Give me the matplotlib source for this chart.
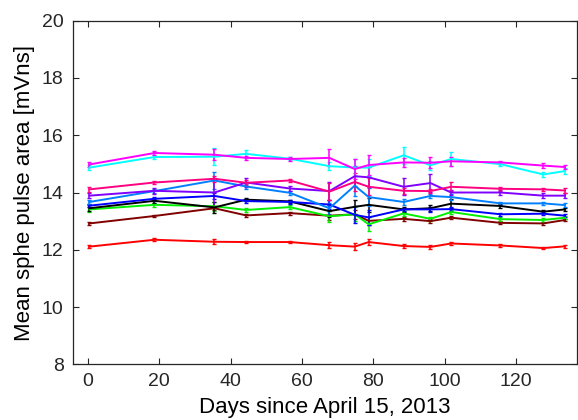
import matplotlib
matplotlib.use('Agg')
import matplotlib.pyplot as plt

plt.rcParams['font.family'] = ['Liberation Sans', 'DejaVu Sans']

days = [0.5, 18.7, 35.5, 44.4, 56.6, 67.7, 74.8, 78.7, 88.5, 96.0, 101.8, 115.6, 127.6, 133.7]

magenta = [14.98, 15.38, 15.32, 15.21, 15.17, 15.21, 14.82, 14.96, 15.05, 15.04, 15.09, 15.05, 14.94, 14.89]
cyan = [14.87, 15.24, 15.25, 15.35, 15.18, 14.92, 14.87, 14.87, 15.30, 14.95, 15.17, 14.99, 14.63, 14.75]
pink = [14.11, 14.35, 14.48, 14.34, 14.42, 14.03, 14.37, 14.20, 14.06, 14.05, 14.20, 14.13, 14.11, 14.07]
purple = [13.89, 14.06, 14.00, 14.35, 14.14, 14.05, 14.57, 14.53, 14.20, 14.33, 14.00, 14.00, 13.89, 13.89]
dodger = [13.67, 14.05, 14.42, 14.21, 13.99, 13.45, 14.24, 13.84, 13.67, 13.88, 13.84, 13.62, 13.62, 13.56]
blue = [13.54, 13.78, 13.88, 13.70, 13.67, 13.58, 13.22, 13.13, 13.41, 13.41, 13.42, 13.24, 13.26, 13.19]
black = [13.45, 13.71, 13.48, 13.75, 13.69, 13.35, 13.50, 13.57, 13.41, 13.45, 13.61, 13.53, 13.33, 13.41]
green = [13.41, 13.57, 13.52, 13.39, 13.49, 13.17, 13.24, 12.89, 13.27, 13.08, 13.32, 13.07, 13.04, 13.12]
maroon = [12.92, 13.18, 13.45, 13.20, 13.28, 13.19, 13.24, 13.01, 13.08, 13.00, 13.12, 12.94, 12.92, 13.04]
red = [12.11, 12.35, 12.28, 12.27, 12.27, 12.16, 12.11, 12.27, 12.13, 12.10, 12.22, 12.15, 12.06, 12.12]

err_magenta = [0.1, 0.08, 0.2, 0.08, 0.06, 0.3, 0.35, 0.35, 0.15, 0.2, 0.15, 0.06, 0.08, 0.08]
err_cyan = [0.1, 0.08, 0.3, 0.15, 0.06, 0.15, 0.3, 0.3, 0.3, 0.15, 0.25, 0.08, 0.1, 0.1]
err_pink = [0.08, 0.06, 0.1, 0.08, 0.06, 0.3, 0.3, 0.3, 0.1, 0.08, 0.15, 0.06, 0.06, 0.08]
err_purple = [0.08, 0.1, 0.5, 0.15, 0.08, 0.3, 0.35, 0.35, 0.3, 0.3, 0.08, 0.08, 0.08, 0.08]
err_dodger = [0.08, 0.06, 0.3, 0.08, 0.06, 0.2, 0.35, 0.3, 0.1, 0.08, 0.1, 0.06, 0.06, 0.06]
err_blue = [0.06, 0.06, 0.1, 0.06, 0.06, 0.15, 0.3, 0.25, 0.06, 0.1, 0.08, 0.06, 0.06, 0.06]
err_black = [0.1, 0.06, 0.2, 0.06, 0.06, 0.2, 0.25, 0.25, 0.1, 0.1, 0.15, 0.06, 0.06, 0.06]
err_green = [0.1, 0.06, 0.15, 0.08, 0.06, 0.2, 0.25, 0.25, 0.1, 0.06, 0.08, 0.06, 0.06, 0.06]
err_maroon = [0.06, 0.05, 0.06, 0.05, 0.05, 0.15, 0.15, 0.15, 0.06, 0.06, 0.06, 0.05, 0.05, 0.05]
err_red = [0.05, 0.05, 0.08, 0.05, 0.05, 0.1, 0.12, 0.12, 0.06, 0.06, 0.06, 0.05, 0.05, 0.05]

series = [
    (red, err_red, '#ff0000'),
    (maroon, err_maroon, '#800000'),
    (green, err_green, '#00ee00'),
    (black, err_black, '#000000'),
    (blue, err_blue, '#0000ff'),
    (dodger, err_dodger, '#0080ff'),
    (purple, err_purple, '#8000ff'),
    (pink, err_pink, '#ff0080'),
    (cyan, err_cyan, '#00ffff'),
    (magenta, err_magenta, '#ff00ff'),
]

fig = plt.figure(figsize=(5.78, 4.2), dpi=100)
ax = fig.add_axes([0.127, 0.1326, 0.871, 0.8181])

for vals, errs, col in series:
    ax.errorbar(days, vals, yerr=errs, color=col, lw=1.4, elinewidth=1.1,
                capsize=1.5, capthick=1.0)

ax.set_xlim(-4, 137)
ax.set_ylim(8, 20)
ax.set_xticks(range(0, 121, 20))
ax.set_yticks(range(8, 21, 2))
ax.tick_params(direction='in', top=True, right=True, length=4, width=0.8,
               labelsize=14, colors='#262626')
ax.tick_params(axis='x', pad=6)
ax.tick_params(axis='y', pad=7)
for s in ax.spines.values():
    s.set_linewidth(0.9)
    s.set_color('#262626')
ax.set_xlabel('Days since April 15, 2013', fontsize=16, labelpad=5)
ax.set_ylabel('Mean sphe pulse area [mVns]', fontsize=16, labelpad=5)

fig.savefig('out.png', dpi=100)
